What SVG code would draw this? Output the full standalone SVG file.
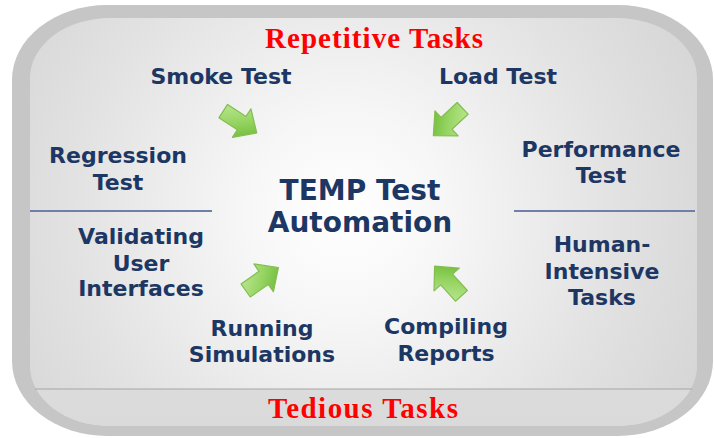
<svg xmlns="http://www.w3.org/2000/svg" width="714" height="438" viewBox="0 0 714 438">
<defs>
<radialGradient id="panelG" gradientUnits="userSpaceOnUse" cx="345" cy="215" r="390">
<stop offset="0" stop-color="#ffffff"/>
<stop offset="0.25" stop-color="#f7f7f7"/>
<stop offset="0.7" stop-color="#e2e2e2"/>
<stop offset="1" stop-color="#d6d6d6"/>
</radialGradient>
<linearGradient id="bandG" x1="0" y1="0" x2="0" y2="1">
<stop offset="0" stop-color="#e8e8e8"/>
<stop offset="1" stop-color="#dadada"/>
</linearGradient>
<linearGradient id="arrowG" x1="0" y1="0" x2="1" y2="1">
<stop offset="0" stop-color="#c4ec9c"/>
<stop offset="0.5" stop-color="#96d462"/>
<stop offset="1" stop-color="#5fb22a"/>
</linearGradient>
<clipPath id="bandClip"><rect x="0" y="389" width="714" height="49"/></clipPath>
<path id="arrow" d="M-20,-8 L2,-8 L2,-17 L20,0 L2,17 L2,8 L-20,8 Z"/>
<style>
.lbl{font-family:"DejaVu Sans",Verdana,sans-serif;font-weight:bold;font-size:22px;fill:#1d3764;text-anchor:middle}
.title{font-family:"DejaVu Sans",Verdana,sans-serif;font-weight:bold;font-size:28px;fill:#1d3764;text-anchor:middle}
.red{font-family:"Liberation Serif","Times New Roman",serif;font-weight:bold;font-size:29px;fill:#ff0000;text-anchor:middle}
.arr{fill:url(#arrowG);stroke:#84bd52;stroke-width:1.2;stroke-linejoin:round}
.sep{stroke:#6e7fa8;stroke-width:2}
</style>
</defs>
<rect width="714" height="438" fill="#ffffff"/>
<g id="frame">
<rect x="12" y="5" width="701" height="431" rx="95" ry="75" fill="#c6c6c6"/>
<rect x="30" y="18" width="667" height="408" rx="80" ry="60" fill="url(#panelG)"/>
<rect x="30" y="18" width="667" height="408" rx="80" ry="60" fill="url(#bandG)" clip-path="url(#bandClip)"/>
<line x1="35" y1="389" x2="692" y2="389" stroke="#a6a6a6" stroke-width="1.2"/>
<line class="sep" x1="30" y1="211" x2="212" y2="211"/>
<line class="sep" x1="514" y1="211" x2="695" y2="211"/>
</g>
<g id="repetitive"><text class="red" x="374" y="48" textLength="218" lengthAdjust="spacing">Repetitive Tasks</text></g>
<g id="tedious"><text class="red" x="363" y="418" textLength="190" lengthAdjust="spacing">Tedious Tasks</text></g>
<g id="center"><text class="title" x="360" y="200">TEMP Test</text><text class="title" x="360" y="232">Automation</text></g>
<g id="smoke"><text class="lbl" x="221" y="84">Smoke Test</text></g>
<g id="load"><text class="lbl" x="498" y="84">Load Test</text></g>
<g id="regression"><text class="lbl" x="118" y="163">Regression</text><text class="lbl" x="118" y="190">Test</text></g>
<g id="performance"><text class="lbl" x="601" y="157">Performance</text><text class="lbl" x="601" y="183">Test</text></g>
<g id="validating"><text class="lbl" x="141" y="244">Validating</text><text class="lbl" x="141" y="271">User</text><text class="lbl" x="141" y="296">Interfaces</text></g>
<g id="human"><text class="lbl" x="602" y="252">Human-</text><text class="lbl" x="602" y="279">Intensive</text><text class="lbl" x="602" y="305">Tasks</text></g>
<g id="running"><text class="lbl" x="262" y="336">Running</text><text class="lbl" x="262" y="362">Simulations</text></g>
<g id="compiling"><text class="lbl" x="446" y="334">Compiling</text><text class="lbl" x="446" y="361">Reports</text></g>
<g id="connectors">
<use href="#arrow" class="arr" transform="translate(240,122) rotate(33)"/>
<use href="#arrow" class="arr" transform="translate(448,122) rotate(137)"/>
<use href="#arrow" class="arr" transform="translate(262,279) rotate(-35)"/>
<use href="#arrow" class="arr" transform="translate(448,281) rotate(-132)"/>
</g>
</svg>
